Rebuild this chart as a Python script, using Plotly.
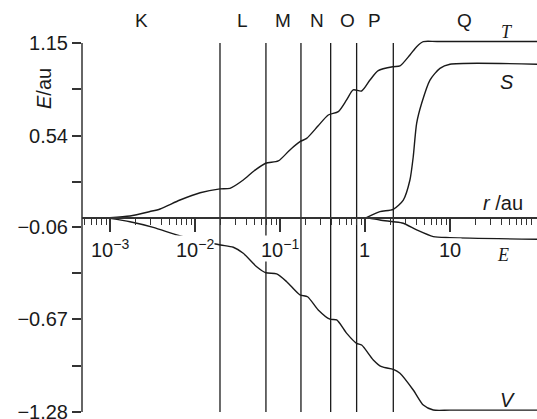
import math
import plotly.graph_objects as go

# ---------------- data ----------------
shell_names = ["K", "L", "M", "N", "O", "P", "Q"]
shell_label_r = [0.00238, 0.0367, 0.108, 0.272, 0.63, 1.31, 15.0]
shell_bounds_r = [0.0197, 0.0684, 0.1766, 0.395, 0.798, 2.155]

T_r = [0.00100, 0.00172, 0.00295, 0.00389, 0.00667, 0.0115, 0.0197, 0.0258, 0.0370,
       0.0494, 0.0679, 0.0955, 0.131, 0.172, 0.206, 0.280, 0.370, 0.485, 0.608,
       0.728, 0.914, 1.146, 1.432, 2.153, 2.582, 3.381, 4.055, 4.853, 7.08, 110.0]
T_E = [0.0, 0.011, 0.040, 0.057, 0.116, 0.164, 0.189, 0.193, 0.248,
       0.307, 0.358, 0.373, 0.446, 0.500, 0.522, 0.603, 0.676, 0.698, 0.775,
       0.841, 0.834, 0.906, 0.968, 0.994, 0.999, 1.071, 1.126, 1.159, 1.160, 1.160]

V_r = [0.00100, 0.00172, 0.00323, 0.00610, 0.01146, 0.02004, 0.02825, 0.0370, 0.0532,
       0.0684, 0.0914, 0.120, 0.172, 0.211, 0.282, 0.387, 0.465, 0.610, 0.798,
       0.914, 1.253, 1.570, 2.153, 2.582, 3.698, 4.853, 6.368, 10.0, 110.0]
V_E = [-0.005, -0.027, -0.064, -0.114, -0.154, -0.180, -0.195, -0.235, -0.323,
       -0.363, -0.371, -0.422, -0.509, -0.521, -0.608, -0.669, -0.674, -0.762, -0.828,
       -0.839, -0.937, -0.982, -0.999, -1.025, -1.135, -1.234, -1.267, -1.268, -1.268]

S_r = [1.04, 1.50, 2.153, 2.825, 3.381, 3.698, 4.055, 4.645, 5.82, 7.62, 10.0, 110.0]
S_E = [0.0, 0.039, 0.055, 0.116, 0.248, 0.401, 0.621, 0.753, 0.906, 0.983, 1.010, 1.010]

E_r = [1.04, 1.50, 2.153, 2.825, 4.055, 6.368, 10.0, 110.0]
E_E = [0.0, -0.016, -0.027, -0.037, -0.081, -0.125, -0.132, -0.143]

y_tick_vals = [1.15, 0.54, -0.06, -0.67, -1.28]
y_tick_text = ["1.15", "0.54", "\u22120.06", "\u22120.67", "\u22121.28"]
y_minor_vals = [0.845, 0.235, -0.365, -0.975]

x_major_vals = [1e-3, 1e-2, 1e-1, 1, 10]
x_major_text = ["10<sup>\u22123</sup>", "10<sup>\u22122</sup>", "10<sup>\u22121</sup>", "1", "10"]
x_minor_vals = [m * 10.0 ** k for k in range(-4, 2) for m in range(2, 10)]

curve_labels = [("<i>T</i>", 46.5, 1.222, "Liberation Serif", 18),
                ("<i>S</i>", 46.5, 0.895, "Liberation Sans", 20),
                ("<i>E</i>", 42.0, -0.246, "Liberation Serif", 18),
                ("<i>V</i>", 48.0, -1.201, "Liberation Sans", 20)]

# ---------------- figure ----------------
INK = "#1a1a1a"
FONT = "Liberation Sans"
Y_RANGE = [-1.2998, 1.2356]
X_RANGE = [-3.329, 2.024]

fig = go.Figure()

# shell boundary lines
bx, by = [], []
for r in shell_bounds_r:
    bx += [r, r, None]
    by += [1.15, -1.28, None]
fig.add_trace(go.Scatter(x=bx, y=by, mode="lines",
                         line=dict(color=INK, width=1.3), hoverinfo="skip"))

for xs, ys in [(T_r, T_E), (V_r, V_E), (S_r, S_E), (E_r, E_E)]:
    fig.add_trace(go.Scatter(x=xs, y=ys, mode="lines",
                             line=dict(color=INK, width=1.4, shape="spline", smoothing=0.7),
                             hoverinfo="skip"))

# y axis line
fig.add_shape(type="line", xref="paper", yref="y", x0=0, x1=0, y0=-1.28, y1=1.15,
              line=dict(color="#333333", width=1.5))

annotations = []
# x tick labels with white background (hide curves like original)
for v, t in zip(x_major_vals, x_major_text):
    annotations.append(dict(x=math.log10(v), y=0, xref="x", yref="y", text=t,
                            showarrow=False, xanchor="center", yanchor="bottom",
                            yshift=-44, bgcolor="white", borderpad=0,
                            font=dict(family=FONT, size=20, color=INK)))
# shell letters
for name, r in zip(shell_names, shell_label_r):
    annotations.append(dict(x=math.log10(r), y=1.0234, xref="x", yref="paper", text=name,
                            showarrow=False, xanchor="center", yanchor="middle",
                            font=dict(family=FONT, size=19, color=INK)))
# curve labels
for txt, lx, ly, fam, sz in curve_labels:
    annotations.append(dict(x=math.log10(lx), y=ly, xref="x", yref="y", text=txt,
                            showarrow=False, xanchor="center", yanchor="middle",
                            font=dict(family=fam, size=sz, color=INK)))
# axis titles
annotations.append(dict(x=math.log10(42.0), y=0.096, xref="x", yref="y",
                        text="<i>r</i> /au", showarrow=False, xanchor="center",
                        yanchor="middle", font=dict(family=FONT, size=20, color=INK)))
annotations.append(dict(x=-0.0835, y=0.847, xref="paper", yref="y",
                        text="<i>E</i>/au", textangle=-90, showarrow=False,
                        xanchor="center", yanchor="middle",
                        font=dict(family=FONT, size=20, color=INK)))

fig.update_layout(
    width=537, height=419,
    margin=dict(l=82, r=0, t=30, b=4, autoexpand=False),
    paper_bgcolor="white", plot_bgcolor="white",
    showlegend=False,
    annotations=annotations,
    xaxis=dict(type="log", range=X_RANGE, anchor="free", automargin=False,
               position=(0 - Y_RANGE[0]) / (Y_RANGE[1] - Y_RANGE[0]),
               showgrid=False, zeroline=False, showline=True,
               linecolor="#333333", linewidth=2,
               tickmode="array", tickvals=x_major_vals, ticks="outside",
               ticklen=13, tickwidth=1.5, tickcolor="#333333",
               showticklabels=False,
               minor=dict(tickmode="array", tickvals=x_minor_vals, ticks="outside",
                          ticklen=6, tickwidth=1.3, tickcolor="#333333", showgrid=False)),
    yaxis=dict(range=Y_RANGE, showgrid=False, zeroline=False, showline=False,
               automargin=False,
               tickmode="array", tickvals=y_tick_vals, ticktext=y_tick_text,
               ticks="outside", ticklen=9, tickwidth=1.5, tickcolor="#333333",
               ticklabeloverflow="allow",
               tickfont=dict(family=FONT, size=20, color=INK),
               minor=dict(tickmode="array", tickvals=y_minor_vals, ticks="outside",
                          ticklen=9, tickwidth=1.5, tickcolor="#333333", showgrid=False)),
)

fig.write_html("out.html")
